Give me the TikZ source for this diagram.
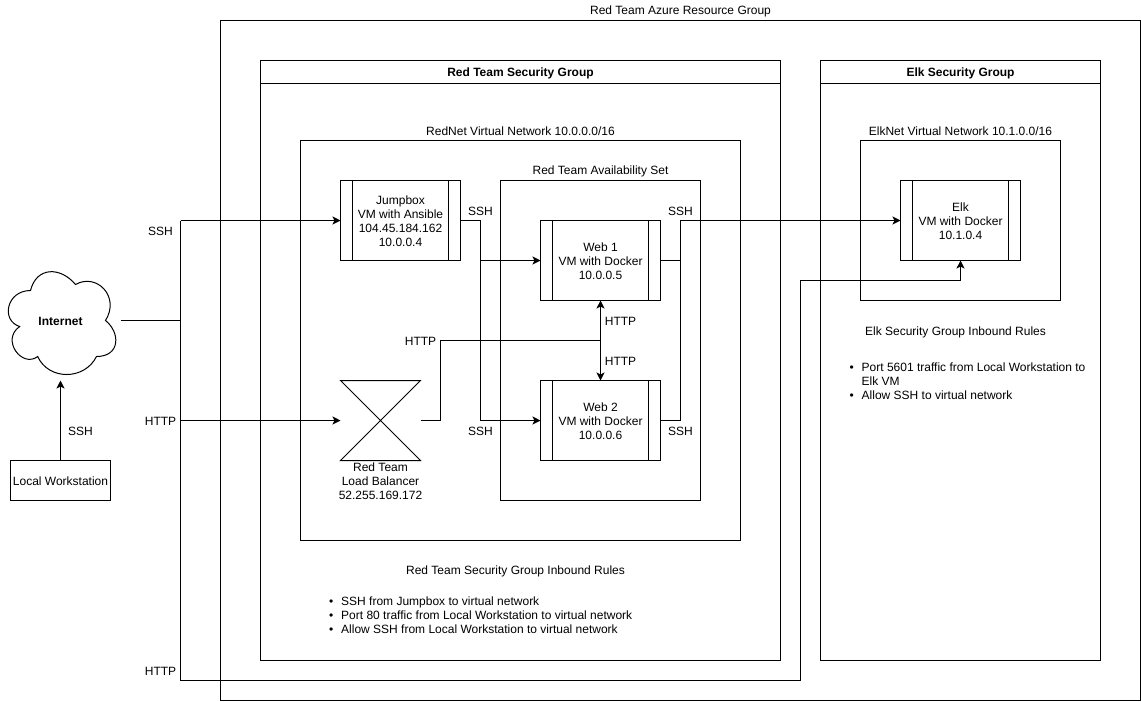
\documentclass[tikz,border=0pt]{standalone}
\usepackage{fontspec}
\setmainfont{Liberation Sans}
\usetikzlibrary{arrows.meta,positioning}
\newcommand{\ruleitem}{\textbullet\hspace{6pt}}
\newcommand{\topgap}{\rule{0pt}{8pt}}
\tikzset{
  lowtext/.style={execute at begin node={\rule{0pt}{8pt}}},
  grpbox/.style 2 args={draw,line width=0.75pt,outer sep=0pt,inner sep=0pt,
    minimum width=#1*0.75pt,minimum height=#2*0.75pt},
  vmbox/.style={grpbox={120}{80},align=center,font=\fontsize{9}{10.5}\selectfont,
    path picture={
      \draw[line width=0.75pt] ([xshift=9pt]path picture bounding box.north west) -- ([xshift=9pt]path picture bounding box.south west);
      \draw[line width=0.75pt] ([xshift=-9pt]path picture bounding box.north east) -- ([xshift=-9pt]path picture bounding box.south east);
    }},
  plaintext/.style={inner sep=0pt,outer sep=0pt,align=center,lowtext,font=\fontsize{9}{10.5}\selectfont},
  headtext/.style={grpbox={#1}{23},lowtext,font=\fontsize{9}{10.5}\selectfont\bfseries},
  rulelist/.style={plaintext,align=left,anchor=north west},
  plainedge/.style={line width=0.75pt},
  flowedge/.style={-{Stealth[length=6pt,width=6pt,inset=1.5pt]},line width=0.75pt}
}
\begin{document}
\begin{tikzpicture}[x=0.75pt,y=-0.75pt]
  \useasboundingbox (-0.5,-0.5) rectangle (1140.5,700.5);
  % groups
  \node[grpbox={920}{680}] (azure) at (680,360) {};
  \node[grpbox={520}{600}] (redsg) at (520,360) {};
  \node[headtext=520] (redhead) at (520,71.5) {Red Team Security Group};
  \node[grpbox={280}{600}] (elksg) at (960,360) {};
  \node[headtext=280] (elkhead) at (960,71.5) {Elk Security Group};
  \node[grpbox={440}{400}] (rednet) at (520,340) {};
  \node[grpbox={200}{320}] (availset) at (600,340) {};
  \node[grpbox={200}{160}] (elknet) at (960,220) {};
  \node[plaintext] (azuretitle) at (680,10) {Red Team Azure Resource Group};
  \node[plaintext] (rednettitle) at (520,130) {RedNet Virtual Network 10.0.0.0/16};
  \node[plaintext] (availtitle) at (600,170) {Red Team Availability Set};
  \node[plaintext] (elknettitle) at (960,130) {ElkNet Virtual Network 10.1.0.0/16};
  % machines
  \node[vmbox] (jump) at (400,220) {\topgap Jumpbox\\VM with Ansible\\104.45.184.162\\10.0.0.4};
  \node[vmbox] (web1) at (600,260) {\topgap Web 1\\VM with Docker\\10.0.0.5};
  \node[vmbox] (web2) at (600,420) {\topgap Web 2\\VM with Docker\\10.0.0.6};
  \node[vmbox] (elk) at (960,220) {\topgap Elk\\VM with Docker\\10.1.0.4};
  \node[grpbox={100}{40},lowtext,font=\fontsize{9}{10.5}\selectfont] (local) at (60,480) {Local Workstation};
  % internet cloud
  \draw[plainedge] (30,290) .. controls (6,290) and (0,320) .. (19.2,326)
    .. controls (0,339.2) and (21.6,368) .. (37.2,356)
    .. controls (48,380) and (84,380) .. (96,356)
    .. controls (120,356) and (120,332) .. (105,320)
    .. controls (120,296) and (96,272) .. (75,284)
    .. controls (60,266) and (36,266) .. (30,290) -- cycle;
  \node[plaintext,minimum width=90pt,minimum height=90pt,font=\fontsize{9}{10.5}\selectfont\bfseries] (internet) at (60,320) {Internet};
  % load balancer
  \node[inner sep=0pt,outer sep=0pt,minimum width=60pt,minimum height=60pt] (lb) at (380,420) {};
  \draw[plainedge] (lb.north west) -- (lb.north east) -- (lb.south west) -- (lb.south east) -- cycle;
  \node[plaintext] (lbtext) at (380,481) {Red Team\\Load Balancer\\52.255.169.172};
  % junctions
  \coordinate (trunktop) at (180,220);
  \coordinate (trunkmid) at (180,320);
  \coordinate (trunklb) at (180,420);
  \coordinate (trunkend) at (180,680);
  \coordinate (elkup) at (800,680);
  \coordinate (elkleft) at (800,280);
  \coordinate (elkright) at (960,280);
  \coordinate (jumpout) at (480,220);
  \coordinate (jumpmid) at (480,260);
  \coordinate (jumplow) at (480,420);
  \coordinate (lbout) at (440,420);
  \coordinate (lbup) at (440,340);
  \coordinate (webjoin) at (600,340);
  \coordinate (sshlow) at (680,420);
  \coordinate (sshmid) at (680,260);
  \coordinate (sshtop) at (680,220);
  % connectors
  \draw[flowedge] (local) -- (internet);
  \draw[plainedge] (internet) -- (trunkmid);
  \draw[plainedge] (trunktop) -- (trunkend);
  \draw[flowedge] (trunktop) -- (jump);
  \draw[flowedge] (trunklb) -- (lb);
  \draw[flowedge] (trunkend) -- (elkup) -- (elkleft) -- (elkright) -- (elk);
  \draw[plainedge] (jump.east |- jumpout) -- (jumpout) -- (jumplow);
  \draw[flowedge] (jumpmid) -- (web1);
  \draw[flowedge] (jumplow) -- (web2);
  \draw[plainedge] (lb) -- (lbout) -- (lbup) -- (webjoin);
  \draw[flowedge] (webjoin) -- (web1);
  \draw[flowedge] (webjoin) -- (web2);
  \draw[plainedge] (web1) -- (sshmid);
  \draw[plainedge] (web2) -- (sshlow);
  \draw[flowedge] (sshlow) -- (sshtop) -- (elk);
  % connector labels
  \node[plaintext] (lblssha) at (160,230) {SSH};
  \node[plaintext] (lblhttpa) at (160,420) {HTTP};
  \node[plaintext] (lblhttpb) at (160,670) {HTTP};
  \node[plaintext] (lblsshb) at (80,430) {SSH};
  \node[plaintext] (lblsshc) at (480,210) {SSH};
  \node[plaintext] (lblsshd) at (680,210) {SSH};
  \node[plaintext] (lblsshe) at (480,430) {SSH};
  \node[plaintext] (lblsshf) at (680,430) {SSH};
  \node[plaintext] (lblhttpc) at (420,340) {HTTP};
  \node[plaintext] (lblhttpd) at (620,320) {HTTP};
  \node[plaintext] (lblhttpe) at (620,360) {HTTP};
  % rules
  \node[plaintext] (redrules) at (515,570) {Red Team Security Group Inbound Rules};
  \node[rulelist] (redlist) at (328.5,596.5) {\ruleitem SSH from Jumpbox to virtual network\\\ruleitem Port 80 traffic from Local Workstation to virtual network\\\ruleitem Allow SSH from Local Workstation to virtual network};
  \node[plaintext] (elkrules) at (955,331) {Elk Security Group Inbound Rules};
  \node[rulelist] (elklist) at (849,362.5) {\ruleitem Port 5601 traffic from Local Workstation to\\\hspace*{9.15pt}Elk VM\\\ruleitem Allow SSH to virtual network};
\end{tikzpicture}
\end{document}
